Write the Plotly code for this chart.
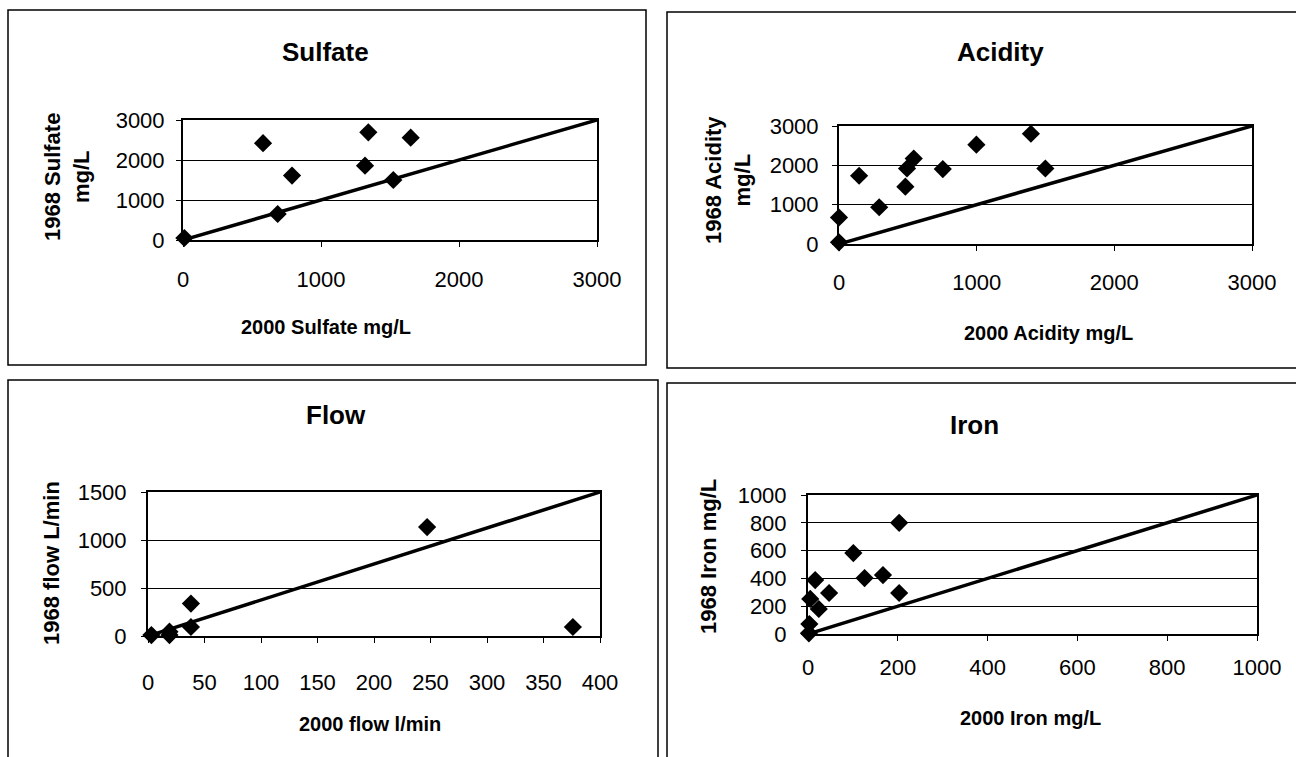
import plotly.graph_objects as go

W, H = 1296, 757

# ---- data ----
sulfate_2000 = [10, 580, 790, 686, 1343, 1319, 1524, 1650]
sulfate_1968 = [50, 2420, 1610, 650, 2692, 1858, 1500, 2558]
sulfate_line = [0, 3000]

acidity_2000 = [0, 0, 146, 292, 482, 494, 543, 754, 998, 1394, 1499]
acidity_1968 = [43, 674, 1735, 934, 1457, 1919, 2172, 1904, 2525, 2803, 1919]
acidity_line = [0, 3000]

flow_2000 = [3, 19, 19, 38, 38, 247, 376]
flow_1968 = [10, 10, 45, 94, 338, 1135, 94]
flow_line_x = [0, 400]
flow_line_y = [0, 1500]

iron_2000 = [2, 3, 5, 24, 16, 47, 101, 126, 167, 203, 203]
iron_1968 = [5, 72, 252, 180, 388, 295, 582, 402, 424, 800, 295]
iron_line = [0, 1000]

FONT = "Liberation Sans, Arial, sans-serif"


def xd(px):
    return px / W


def yd(py):
    return 1 - py / H


fig = go.Figure()

panels = [
    dict(n="", px=(183, 597), py=(120, 240), xr=[0, 3000], yr=[0, 3000],
         xdt=1000, ydt=1000, xs=sulfate_2000, ys=sulfate_1968,
         lx=sulfate_line, ly=sulfate_line, xstand=14, ystand=7),
    dict(n="2", px=(839, 1252), py=(126, 244), xr=[0, 3000], yr=[0, 3000],
         xdt=1000, ydt=1000, xs=acidity_2000, ys=acidity_1968,
         lx=acidity_line, ly=acidity_line, xstand=13, ystand=9),
    dict(n="3", px=(148, 600), py=(492, 636), xr=[0, 400], yr=[0, 1500],
         xdt=50, ydt=500, xs=flow_2000, ys=flow_1968,
         lx=flow_line_x, ly=flow_line_y, xstand=21, ystand=10),
    dict(n="4", px=(808, 1257), py=(495, 634), xr=[0, 1000], yr=[0, 1000],
         xdt=200, ydt=200, xs=iron_2000, ys=iron_1968,
         lx=iron_line, ly=iron_line, xstand=8, ystand=10),
]

for p in panels:
    xa = "x" + p["n"]
    ya = "y" + p["n"]
    fig.add_trace(go.Scatter(x=p["lx"], y=p["ly"], mode="lines",
                             line=dict(color="black", width=3.5),
                             xaxis=xa, yaxis=ya, showlegend=False,
                             cliponaxis=False, hoverinfo="skip"))
    fig.add_trace(go.Scatter(x=p["xs"], y=p["ys"], mode="markers",
                             marker=dict(symbol="diamond", size=14, color="black"),
                             xaxis=xa, yaxis=ya, showlegend=False,
                             cliponaxis=False))
    common = dict(showline=True, linecolor="black", linewidth=2, mirror=True,
                  ticks="outside", ticklen=5, tickcolor="black", tickwidth=1,
                  zeroline=False, automargin=False,
                  tickfont=dict(family=FONT, size=22, color="black"))
    fig.layout["xaxis" + p["n"]] = dict(
        domain=[xd(p["px"][0]), xd(p["px"][1])], range=p["xr"], dtick=p["xdt"],
        tick0=0, anchor=ya, showgrid=False, ticklabelstandoff=p["xstand"], **common)
    fig.layout["yaxis" + p["n"]] = dict(
        domain=[yd(p["py"][1]), yd(p["py"][0])], range=p["yr"], dtick=p["ydt"],
        tick0=0, anchor=xa, showgrid=True, gridcolor="black", gridwidth=1,
        ticklabelstandoff=p["ystand"], **common)

# panel frames
frames = [(8, 10, 646, 365), (667, 12, 1300, 368), (8, 380, 658, 770), (667, 383, 1300, 770)]
shapes = []
for (x0, y0, x1, y1) in frames:
    shapes.append(dict(type="rect", xref="paper", yref="paper",
                       x0=xd(x0), x1=xd(x1), y0=yd(y1), y1=yd(y0),
                       line=dict(color="black", width=1.5), fillcolor="rgba(0,0,0,0)",
                       layer="below"))

ann = []


def add_text(text, px, py, size, angle=0):
    ann.append(dict(text=text, x=xd(px), y=yd(py), xref="paper", yref="paper",
                    xanchor="center", yanchor="middle", showarrow=False,
                    textangle=angle,
                    font=dict(family=FONT, size=size, color="black")))


add_text("<b>Sulfate</b>", 325, 52, 26)
add_text("<b>2000 Sulfate mg/L</b>", 326, 327, 20)
add_text("<b>1968 Sulfate<br>mg/L</b>", 67, 177, 22, -90)
add_text("<b>Acidity</b>", 1000, 52, 26)
add_text("<b>2000 Acidity mg/L</b>", 1048, 333, 20)
add_text("<b>1968 Acidity<br>mg/L</b>", 728, 180, 22, -90)
add_text("<b>Flow</b>", 336, 415, 26)
add_text("<b>2000 flow l/min</b>", 370, 724, 20)
add_text("<b>1968 flow L/min</b>", 51, 563, 22, -90)
add_text("<b>Iron</b>", 975, 425, 26)
add_text("<b>2000 Iron mg/L</b>", 1030, 718, 20)
add_text("<b>1968 Iron mg/L</b>", 708, 557, 22, -90)

fig.update_layout(width=W, height=H, margin=dict(l=0, r=0, t=0, b=0, pad=0),
                  autosize=False,
                  paper_bgcolor="white", plot_bgcolor="white",
                  shapes=shapes, annotations=ann, showlegend=False)

fig.write_html("out.html", config={"responsive": False, "displayModeBar": False},
               post_script="document.body.style.margin='0';document.body.style.overflow='hidden';")
